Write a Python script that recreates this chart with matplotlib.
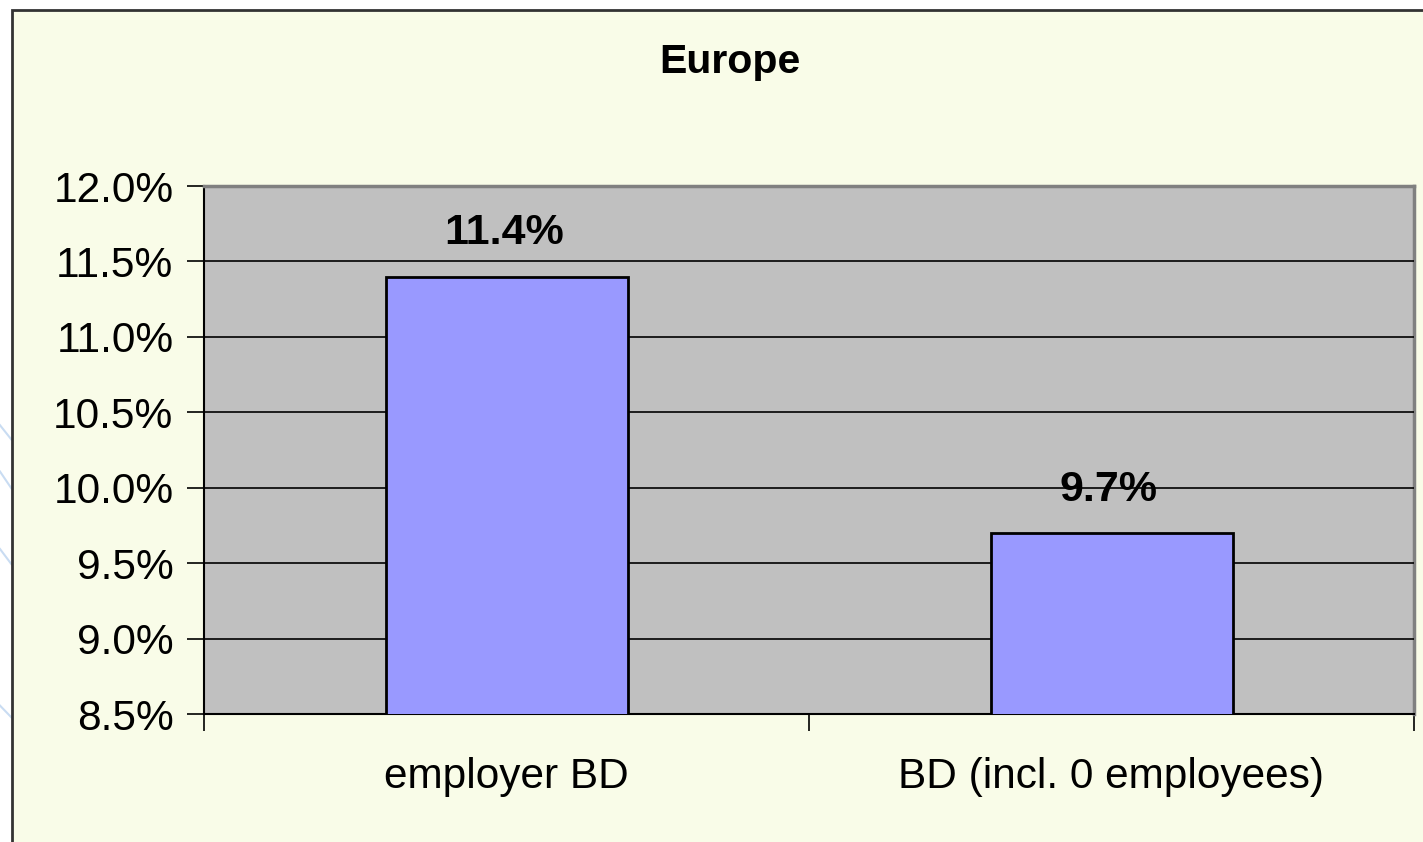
import matplotlib
matplotlib.use("Agg")
import matplotlib.pyplot as plt
from matplotlib.patches import Rectangle
from matplotlib.lines import Line2D

# chart data
categories = ["employer BD", "BD (incl. 0 employees)"]
values = [11.4, 9.7]
labels = ["11.4%", "9.7%"]
yticks = [8.5, 9.0, 9.5, 10.0, 10.5, 11.0, 11.5, 12.0]

plt.rcParams["font.family"] = ["Liberation Sans", "DejaVu Sans"]

fig = plt.figure(figsize=(14.23, 8.42), dpi=100)
fig.patch.set_facecolor("white")

# chart frame (light yellow with dark border on left/top)
frame = Rectangle((12 / 1423, -0.1), 1.2, 0.988 + 0.1, transform=fig.transFigure,
                  facecolor="#F9FCE8", edgecolor="#333333", linewidth=2, zorder=-10)
fig.patches.append(frame)

# faint decorative lines on the left edge
for y0, y1 in [(0.495, 0.478), (0.44, 0.42), (0.348, 0.33), (0.162, 0.148)]:
    fig.lines.append(Line2D([0.0, 0.008], [y0, y1], transform=fig.transFigure,
                            color="#C9DCF2", linewidth=1.5, zorder=-10))

ax = fig.add_axes([204 / 1423, 128 / 842, 1210 / 1423, 528 / 842])
ax.set_facecolor("#C0C0C0")

x = range(len(categories))
ax.bar(x, values, width=0.40, color="#9999FF", edgecolor="black", linewidth=2, zorder=4)

for xi, v, lab in zip(x, values, labels):
    ax.annotate(lab, (xi, v), xytext=(-2, 31), textcoords="offset points",
                ha="center", va="center", fontsize=31, fontweight="bold", zorder=2)

for t in yticks[1:-1]:
    ax.axhline(t, color="black", linewidth=1.2, zorder=3)

ax.set_xlim(-0.5, 1.5)
ax.set_ylim(8.5, 12.0)
ax.set_yticks(yticks)
ax.set_yticklabels([f"{t:.1f}%" for t in yticks], fontsize=30.5)

ax.set_xticks([-0.5, 0.5, 1.5])
ax.set_xticklabels([])
ax.set_xticks(list(x), minor=True)
ax.set_xticklabels(categories, minor=True, fontsize=30.5)
ax.tick_params(axis="x", which="minor", length=0, pad=31)
ax.tick_params(axis="x", which="major", length=12, width=1.2, direction="out")
ax.tick_params(axis="y", length=12, width=1.2, pad=10)

for side in ["top", "right"]:
    ax.spines[side].set_color("#808080")
    ax.spines[side].set_linewidth(2.5)
for side in ["left", "bottom"]:
    ax.spines[side].set_color("black")
    ax.spines[side].set_linewidth(1.5)

fig.text(730 / 1423, 1 - 62 / 842, "Europe", ha="center", va="center",
         fontsize=29.5, fontweight="bold")

fig.savefig("out.png", dpi=100)
